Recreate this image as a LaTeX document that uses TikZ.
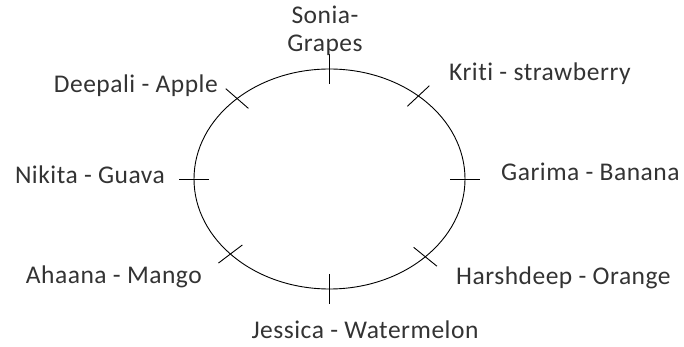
\documentclass[tikz,border=0pt]{standalone}
\usepackage{fontspec}
\setmainfont{Carlito}[Ligatures=NoCommon, LetterSpace=2]
\usetikzlibrary{calc}
\begin{document}
\begin{tikzpicture}[x=1pt, y=1pt, guest/.style={inner sep=0pt, text=black!80, font=\fontsize{25.5}{28}\selectfont}, tick/.style={black, line width=0.9pt}]
        \useasboundingbox (0,0) rectangle (684,347);
        % table
        \coordinate (c) at (329.5,168);
        \draw[black, line width=0.9pt] (c) ellipse [x radius=135.5, y radius=110];

        % seats
        \foreach \ang/\seat in {90/so, 49/kr, 0/ga, 315/ha, 270/je, 223/ah, 180/ni, 133/de} {
            \coordinate (\seat) at ($(c)+({135.5*cos(\ang)},{110*sin(\ang)})$);
            \draw[tick] ($(\seat)!15pt!(c)$) -- ($(\seat)!-15pt!(c)$);
        }

        % names
        \node[guest, align=center] (sonia) at (325,316) {Sonia-\\[0pt]Grapes};
        \node[guest, anchor=west] (kriti) at (449,273) {Kriti - strawberry};
        \node[guest, anchor=west] (garima) at (501,175) {Garima - Banana};
        \node[guest, anchor=west] (harsh) at (456,69) {Harshdeep - Orange};
        \node[guest] (jessica) at (365,17) {Jessica - Watermelon};
        \node[guest, anchor=east] (deepali) at (218,261) {Deepali - Apple};
        \node[guest, anchor=east] (nikita) at (165,172) {Nikita - Guava};
        \node[guest, anchor=east] (ahaana) at (202,70) {Ahaana - Mango};
    \end{tikzpicture}
\end{document}
